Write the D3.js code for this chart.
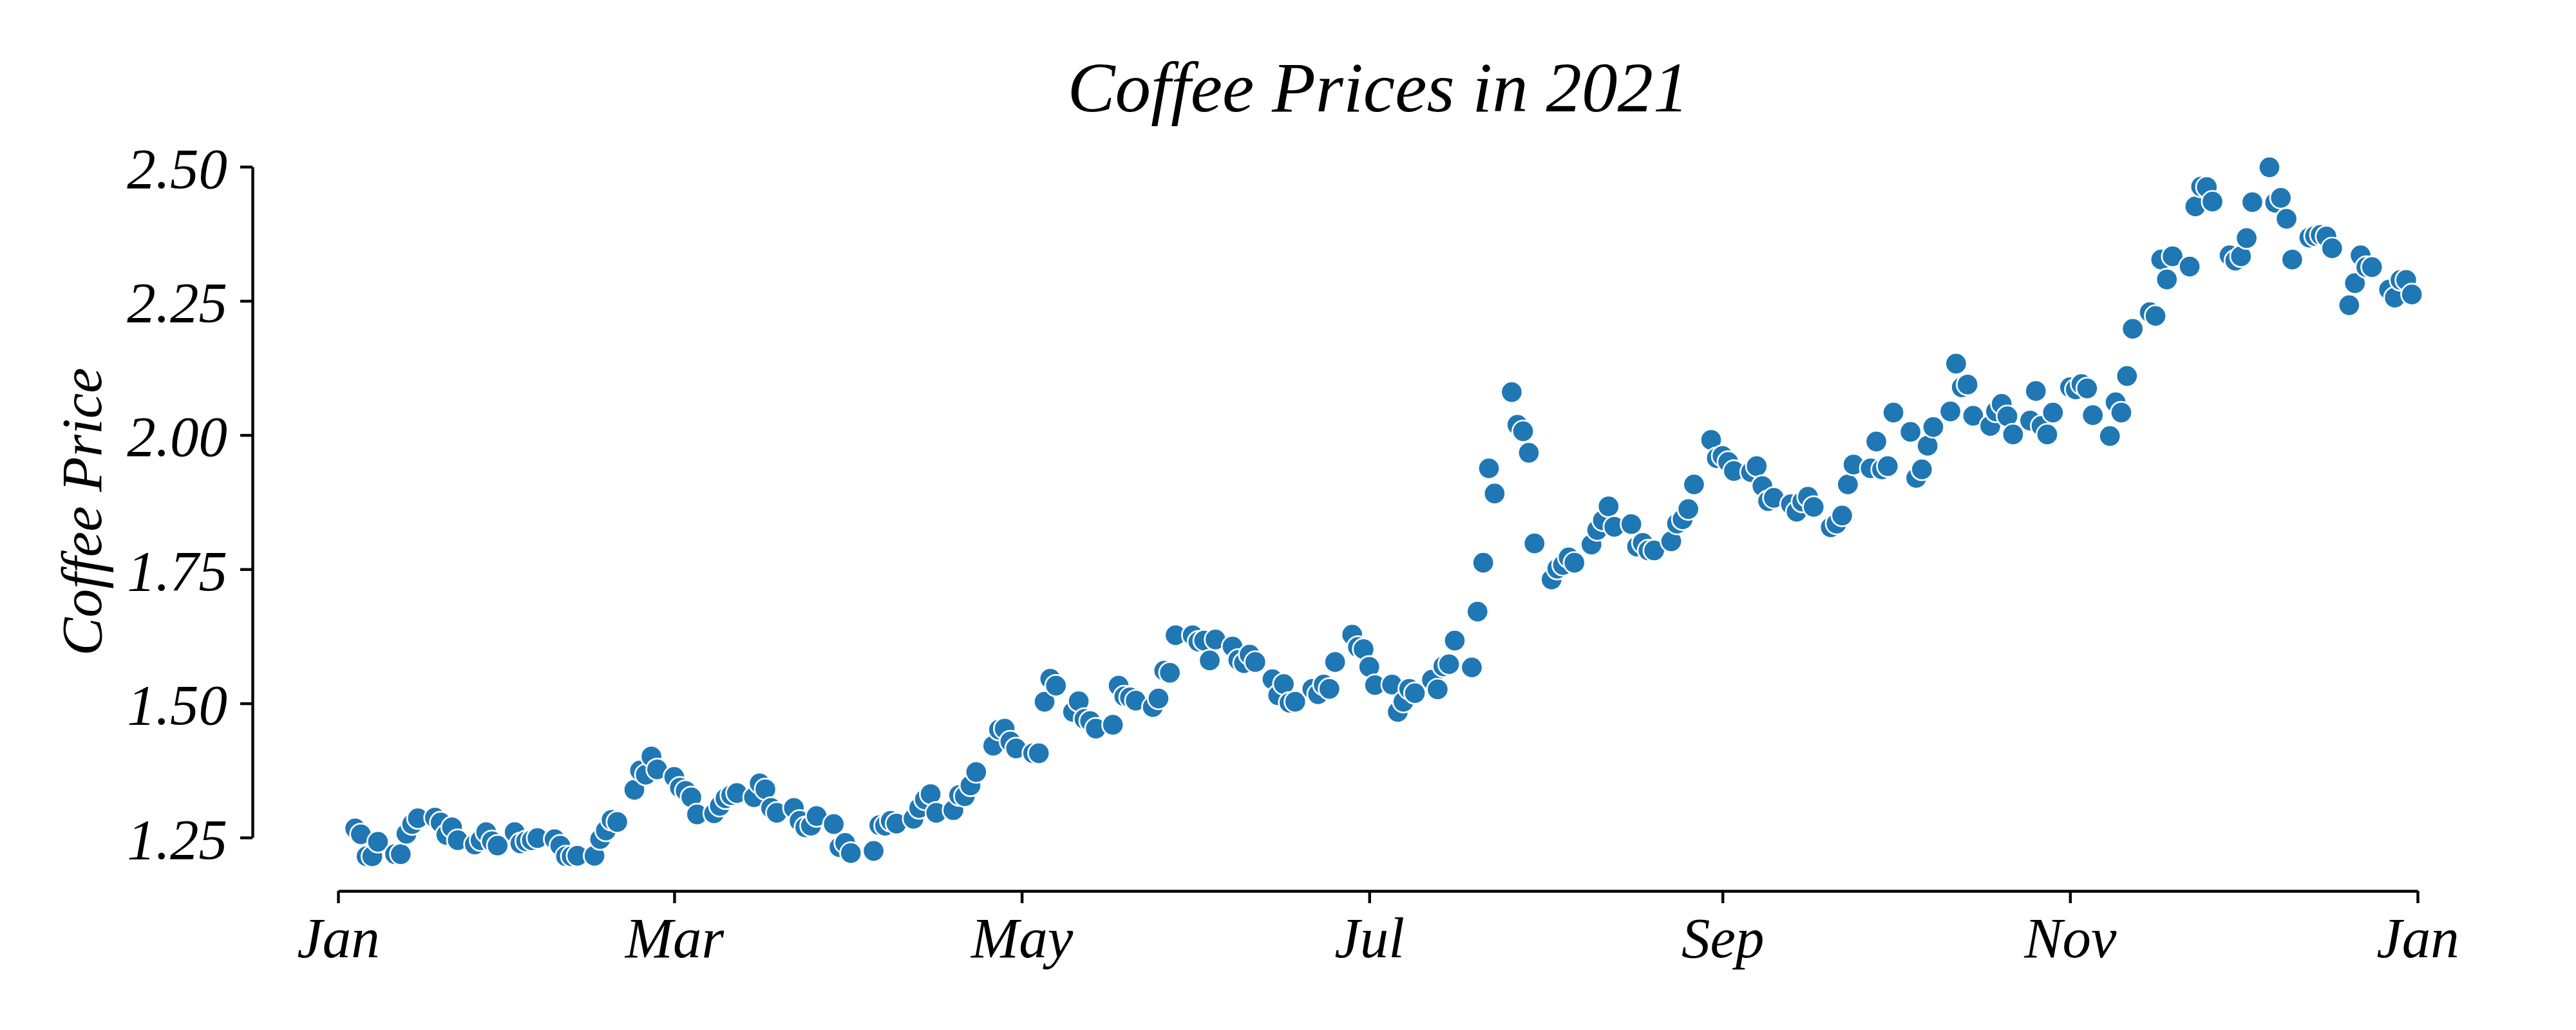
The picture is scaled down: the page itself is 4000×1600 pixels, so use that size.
<!DOCTYPE html>
<html>
<head>
<meta charset="utf-8">
<script src="https://cdn.jsdelivr.net/npm/d3@7"></script>
<style>
  html, body { margin: 0; padding: 0; background: #ffffff; }
  svg { display: block; }
  text { font-family: "Liberation Serif", "Times New Roman", serif; font-style: italic; fill: #000; }
</style>
</head>
<body>
<svg id="chart" width="4000" height="1600"></svg>
<script>
// ---- data: [day of month, price] per month of 2021 ----
const jan = [[4,1.267],[5,1.256],[6,1.215],[7,1.215],[8,1.242],[11,1.219],[12,1.219],[13,1.257],[14,1.275],[15,1.286],[18,1.287],[19,1.278],[20,1.255],[21,1.269],[22,1.245],[25,1.237],[26,1.245],[27,1.260],[28,1.243],[29,1.235]];
const feb = [[1,1.260],[2,1.239],[3,1.243],[4,1.245],[5,1.249],[8,1.247],[9,1.235],[10,1.215],[11,1.215],[12,1.216],[15,1.216],[16,1.247],[17,1.263],[18,1.283],[19,1.279],[22,1.339],[23,1.375],[24,1.367],[25,1.401],[26,1.377]];
const mar = [[1,1.363],[2,1.343],[3,1.337],[4,1.325],[5,1.293],[8,1.295],[9,1.309],[10,1.323],[11,1.329],[12,1.333],[15,1.325],[16,1.351],[17,1.340],[18,1.305],[19,1.296],[22,1.305],[23,1.281],[24,1.269],[25,1.272],[26,1.290],[29,1.275],[30,1.232],[31,1.240]];
const apr = [[1,1.221],[5,1.225],[6,1.273],[7,1.272],[8,1.281],[9,1.276],[12,1.285],[13,1.305],[14,1.321],[15,1.331],[16,1.296],[19,1.301],[20,1.329],[21,1.327],[22,1.347],[23,1.372],[26,1.421],[27,1.451],[28,1.453],[29,1.429],[30,1.416]];
const may = [[3,1.407],[4,1.407],[5,1.503],[6,1.546],[7,1.533],[10,1.484],[11,1.504],[12,1.471],[13,1.467],[14,1.453],[17,1.460],[18,1.533],[19,1.513],[20,1.511],[21,1.505],[24,1.493],[25,1.509],[26,1.561],[27,1.557],[28,1.627],[31,1.627]];
const jun = [[1,1.615],[2,1.617],[3,1.580],[4,1.619],[7,1.606],[8,1.581],[9,1.575],[10,1.591],[11,1.577],[14,1.545],[15,1.515],[16,1.536],[17,1.501],[18,1.503],[21,1.527],[22,1.517],[23,1.535],[24,1.527],[25,1.577],[28,1.628],[29,1.605],[30,1.601]];
const jul = [[1,1.568],[2,1.534],[5,1.535],[6,1.484],[7,1.503],[8,1.527],[9,1.519],[12,1.544],[13,1.526],[14,1.569],[15,1.573],[16,1.617],[19,1.567],[20,1.671],[21,1.762],[22,1.938],[23,1.891],[26,2.080],[27,2.019],[28,2.007],[29,1.967],[30,1.798]];
const aug = [[2,1.731],[3,1.751],[4,1.758],[5,1.772],[6,1.762],[9,1.796],[10,1.823],[11,1.841],[12,1.867],[13,1.829],[16,1.834],[17,1.792],[18,1.799],[19,1.785],[20,1.785],[23,1.802],[24,1.835],[25,1.843],[26,1.862],[27,1.908],[30,1.991],[31,1.957]];
const sep = [[1,1.961],[2,1.950],[3,1.933],[6,1.931],[7,1.942],[8,1.905],[9,1.877],[10,1.883],[13,1.871],[14,1.857],[15,1.876],[16,1.885],[17,1.866],[20,1.828],[21,1.835],[22,1.850],[23,1.908],[24,1.945],[27,1.938],[28,1.988],[29,1.936],[30,1.942]];
const oct = [[1,2.042],[4,2.006],[5,1.920],[6,1.936],[7,1.980],[8,2.015],[11,2.044],[12,2.133],[13,2.089],[14,2.094],[15,2.036],[18,2.017],[19,2.044],[20,2.058],[21,2.035],[22,2.001],[25,2.027],[26,2.082],[27,2.017],[28,2.001],[29,2.042]];
const nov = [[1,2.089],[2,2.085],[3,2.095],[4,2.087],[5,2.037],[8,1.998],[9,2.061],[10,2.042],[11,2.110],[12,2.198],[15,2.229],[16,2.222],[17,2.327],[18,2.290],[19,2.333],[22,2.314],[23,2.426],[24,2.463],[25,2.462],[26,2.435],[29,2.335],[30,2.325]];
const dec = [[1,2.333],[2,2.367],[3,2.434],[6,2.499],[7,2.433],[8,2.442],[9,2.403],[10,2.327],[13,2.368],[14,2.371],[15,2.373],[16,2.370],[17,2.348],[20,2.242],[21,2.283],[22,2.335],[23,2.313],[24,2.313],[27,2.271],[28,2.256],[29,2.289],[30,2.289],[31,2.262]];

const yTicks = [1.25, 1.50, 1.75, 2.00, 2.25, 2.50];
const xTickDates = [[2021,0],[2021,2],[2021,4],[2021,6],[2021,8],[2021,10],[2022,0]];
const titleText = "Coffee Prices in 2021";
const yLabelText = "Coffee Price";

// ---- build ----
const months = [jan, feb, mar, apr, may, jun, jul, aug, sep, oct, nov, dec];
const data = months.flatMap((m, i) => m.map(([d, v]) => ({ date: new Date(Date.UTC(2021, i, d)), value: v })));

const svg = d3.select("#chart");
svg.append("rect").attr("width", 4000).attr("height", 1600).attr("fill", "#fff");

const x = d3.scaleUtc()
  .domain([new Date(Date.UTC(2021, 0, 1)), new Date(Date.UTC(2022, 0, 1))])
  .range([525, 3754]);
const y = d3.scaleLinear().domain([1.25, 2.50]).range([1301, 259]);

const lw = 4.4;
const fontSize = 89;

// x axis
const xAxis = svg.append("g")
  .attr("transform", "translate(0,1384)")
  .call(d3.axisBottom(x)
    .tickValues(xTickDates.map(([yy, mm]) => new Date(Date.UTC(yy, mm, 1))))
    .tickFormat(d3.utcFormat("%b"))
    .tickSize(19)
    .tickSizeOuter(0));
xAxis.select(".domain").attr("stroke", "#000").attr("stroke-width", lw);
xAxis.selectAll(".tick line").attr("stroke", "#000").attr("stroke-width", lw);
xAxis.selectAll(".tick text")
  .attr("y", 103).attr("dy", null)
  .attr("font-size", fontSize)
  .attr("font-family", "Liberation Serif, Times New Roman, serif")
  .attr("font-style", "italic")
  .attr("fill", "#000");

// y axis
const yAxis = svg.append("g")
  .attr("transform", "translate(392,0)")
  .call(d3.axisLeft(y)
    .tickValues(yTicks)
    .tickFormat(d3.format(".2f"))
    .tickSize(19)
    .tickSizeOuter(0));
yAxis.select(".domain").attr("stroke", "#000").attr("stroke-width", lw);
yAxis.selectAll(".tick line").attr("stroke", "#000").attr("stroke-width", lw);
yAxis.selectAll(".tick text")
  .attr("x", -39).attr("y", 32).attr("dy", null)
  .attr("text-anchor", "end")
  .attr("font-size", fontSize)
  .attr("font-family", "Liberation Serif, Times New Roman, serif")
  .attr("font-style", "italic")
  .attr("fill", "#000");

// points
svg.append("g")
  .selectAll("circle")
  .data(data)
  .join("circle")
  .attr("cx", d => x(d.date))
  .attr("cy", d => y(d.value))
  .attr("r", 16.7)
  .attr("fill", "#1f77b4")
  .attr("stroke", "#ffffff")
  .attr("stroke-width", 2.7);

// title
svg.append("text")
  .attr("x", 2140).attr("y", 173)
  .attr("text-anchor", "middle")
  .attr("font-size", 111)
  .text(titleText);

// y label
svg.append("text")
  .attr("transform", "translate(157,795) rotate(-90)")
  .attr("text-anchor", "middle")
  .attr("font-size", fontSize)
  .text(yLabelText);
</script>
</body>
</html>
